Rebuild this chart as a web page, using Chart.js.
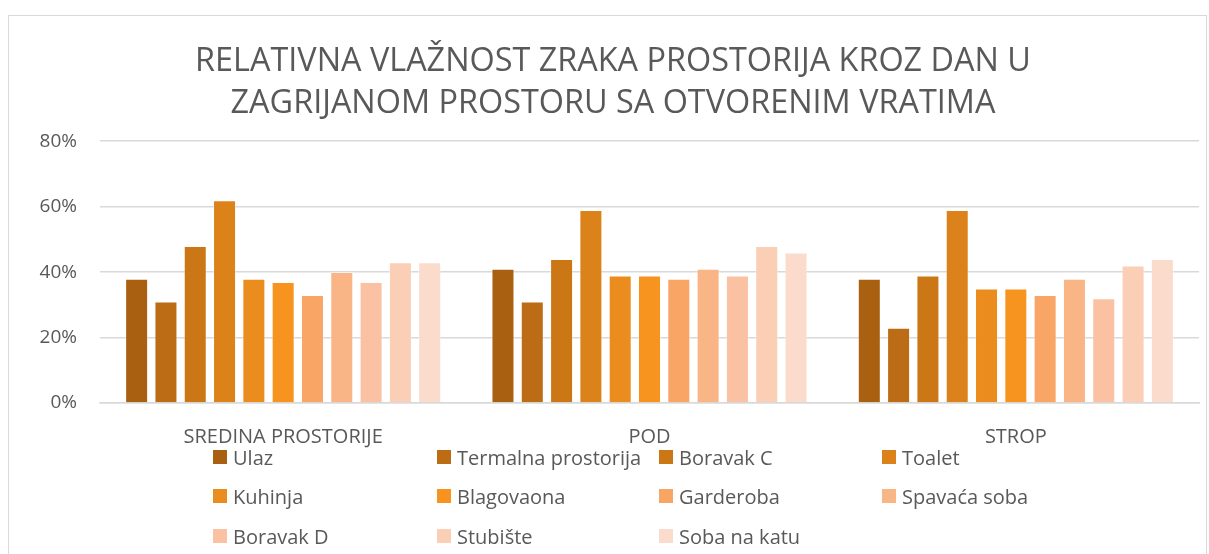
<!DOCTYPE html>
<html>
<head>
<meta charset="utf-8">
<script src="https://cdn.jsdelivr.net/npm/chart.js@4"></script>
<style>
    body { margin: 0; background: #fff; }
    #wrap { position: relative; width: 1209px; height: 554px; overflow: hidden; font-family: 'Open Sans', sans-serif; }
    #frame { position: absolute; left: 8px; top: 15px; width: 1199px; height: 600px; border: 1px solid #d9d9d9; box-sizing: border-box; }
    #chart { position: absolute; left: 0; top: 0; }
    #legend { position: absolute; left: 0; top: 0; width: 1209px; height: 554px; pointer-events: none; }
    .item { position: absolute; display: flex; align-items: center; color: #595959; font-size: 20px; white-space: nowrap; }
    .item .box { width: 14px; height: 14px; margin-right: 6px; }
</style>
</head>
<body>
<div id="wrap">
    <div id="frame"></div>
    <canvas id="chart" width="1209" height="554"></canvas>
    <div id="legend"></div>
</div>
<script>
// Data
const categories = ['SREDINA PROSTORIJE', 'POD', 'STROP'];
const rooms = ['Ulaz', 'Termalna prostorija', 'Boravak C', 'Toalet', 'Kuhinja', 'Blagovaona',
    'Garderoba', 'Spavaća soba', 'Boravak D', 'Stubište', 'Soba na katu'];
const ulaz = [38, 41, 38];
const termalna = [31, 31, 23];
const boravakC = [48, 44, 39];
const toalet = [62, 59, 59];
const kuhinja = [38, 39, 35];
const blagovaona = [37, 39, 35];
const garderoba = [33, 38, 33];
const spavaca = [40, 41, 38];
const boravakD = [37, 39, 32];
const stubiste = [43, 48, 42];
const sobaNaKatu = [43, 46, 44];
const yTicks = [0, 20, 40, 60, 80];

const roomValues = [ulaz, termalna, boravakC, toalet, kuhinja, blagovaona,
    garderoba, spavaca, boravakD, stubiste, sobaNaKatu];
const roomColors = ['#aa6011', '#bb6c14', '#cb7716', '#db821a', '#ea8c1e', '#f7941f',
    '#f8a566', '#fab586', '#fac2a2', '#fbceb6', '#fbdbcc'];

const textColor = '#595959';
const gridColor = '#d9d9d9';

document.addEventListener('DOMContentLoaded', () => {
    const chart = initializeChart();
    buildLegend(chart);
});

function initializeChart() {
    const ctx = document.getElementById('chart').getContext('2d');
    return new Chart(ctx, {
        type: 'bar',
        data: {
            labels: categories,
            datasets: rooms.map((name, i) => ({
                label: name,
                data: roomValues[i],
                backgroundColor: roomColors[i],
                borderColor: 'rgba(255, 255, 255, 0.35)',
                borderWidth: 1,
                categoryPercentage: 0.88,
                barPercentage: 0.785
            }))
        },
        options: {
            responsive: false,
            animation: false,
            layout: { padding: { top: 41, right: 10, bottom: 101, left: 27 } },
            plugins: {
                legend: { display: false },
                tooltip: { enabled: false },
                title: {
                    display: true,
                    text: ['RELATIVNA VLAŽNOST ZRAKA PROSTORIJA KROZ DAN U', 'ZAGRIJANOM PROSTORU SA OTVORENIM VRATIMA'],
                    color: textColor,
                    font: { family: 'Open Sans', size: 32.4, weight: 'normal', lineHeight: 1.3 },
                    padding: { top: 0, bottom: 16 }
                }
            },
            scales: {
                x: {
                    grid: { display: false },
                    border: { color: gridColor, width: 1.5 },
                    ticks: { color: textColor, padding: 14, font: { family: 'Open Sans', size: 20 } },
                    afterFit: (scale) => { scale.height = 50; }
                },
                y: {
                    min: 0,
                    max: 80,
                    afterBuildTicks: (scale) => { scale.ticks = yTicks.map(v => ({ value: v })); },
                    grid: { color: gridColor, lineWidth: 1.5, drawTicks: false },
                    border: { display: false },
                    ticks: {
                        color: textColor,
                        padding: 23,
                        font: { family: 'Open Sans', size: 19 },
                        callback: (v) => v + '%'
                    },
                    afterFit: (scale) => { scale.width = 73; }
                }
            }
        }
    });
}

// Legend laid out in columns like the original
function buildLegend(chart) {
    const legend = document.getElementById('legend');
    const colX = [213, 437, 659, 882];
    const rowY = [457, 496, 536];
    chart.data.datasets.forEach((ds, i) => {
        const item = document.createElement('div');
        item.className = 'item';
        item.style.left = colX[i % 4] + 'px';
        item.style.top = (rowY[Math.floor(i / 4)] - 12) + 'px';
        item.style.height = '24px';
        item.innerHTML = `<span class="box" style="background:${ds.backgroundColor}"></span><span>${ds.label}</span>`;
        legend.appendChild(item);
    });
}
</script>
</body>
</html>
